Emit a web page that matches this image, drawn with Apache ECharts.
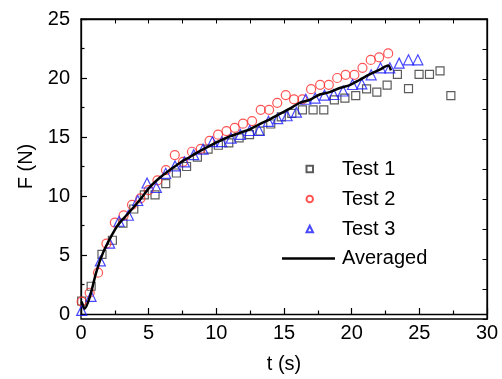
<!DOCTYPE html>
<html>
<head>
<meta charset="utf-8">
<script src="https://cdn.jsdelivr.net/npm/echarts@6/dist/echarts.min.js"></script>
<style>
html,body{margin:0;padding:0;background:#fff;}
#c{width:502px;height:379px;}
</style>
</head>
<body>
<div id="c"></div>
<script>
// ---- data ----
const test1T = [0.05,0.75,1.55,2.32,3.1,3.9,4.68,5.47,6.26,7.05,7.8,8.6,9.39,10.15,10.92,11.68,12.45,13.23,14.02,14.8,15.58,16.36,17.15,17.94,18.72,19.5,20.3,21.1,21.86,22.62,23.38,24.2,24.98,25.75,26.53,27.33];
const test1F = [1.1,2.35,5.05,6.25,7.7,8.9,10.1,10.1,11.05,11.95,12.5,13.3,13.97,14.3,14.5,14.92,15.2,15.5,16.1,16.7,17.0,17.3,17.3,17.3,18.15,18.3,18.5,19.08,18.8,19.4,20.3,19.1,20.3,20.3,20.6,18.5];

const test2T = [0.05,0.64,1.26,1.88,2.5,3.15,3.77,4.39,5.0,5.65,6.28,6.93,7.54,8.2,8.85,9.5,10.13,10.75,11.36,11.97,12.64,13.28,13.9,14.5,15.13,15.74,16.36,17.0,17.67,18.31,18.93,19.55,20.2,20.8,21.41,22.03,22.7];
const test2F = [1.05,1.8,3.5,5.97,7.75,8.35,9.25,9.8,10.5,11.33,12.2,13.47,12.9,13.75,14.0,14.67,15.2,15.5,15.78,16.13,16.35,17.3,17.3,17.9,18.55,18.19,18.19,19.05,19.42,19.42,20.0,20.27,20.27,20.86,21.53,21.75,22.08];

const test3T = [0.05,0.74,1.43,2.12,2.81,3.5,4.19,4.88,5.57,6.26,6.95,7.64,8.33,9.02,9.71,10.4,11.09,11.78,12.47,13.16,13.85,14.54,15.23,15.92,16.61,17.3,17.99,18.68,19.37,20.06,20.75,21.44,22.13,22.82,23.51,24.2,24.89];
const test3F = [0.3,1.5,4.5,6.0,7.86,8.37,9.62,11.1,10.72,11.92,12.55,12.9,13.5,13.97,14.6,14.6,14.9,15.22,15.55,15.55,16.33,16.55,16.8,17.1,18.2,18.3,18.55,18.6,18.9,19.45,19.5,20.27,20.86,20.86,21.26,21.54,21.54];

const avgT = [0.05,0.27,0.64,1.13,1.63,2.24,2.73,3.47,4.34,5.08,5.82,6.56,7.3,8.03,8.77,9.51,10.25,10.99,11.73,12.47,13.2,13.95,14.69,15.42,16.16,16.9,17.64,18.38,19.12,19.86,20.6,21.33,22.07,22.7,22.9];
const avgF = [1.05,0.45,1.4,3.55,5.2,6.6,7.55,8.5,9.66,10.75,11.55,12.2,12.8,13.3,13.8,14.25,14.67,15.05,15.35,15.65,16.1,16.5,16.95,17.4,17.9,18.15,18.6,18.8,19.15,19.4,19.85,20.3,20.7,21.05,20.65];

const xTicks = {min:0, max:30, interval:5};
const yTicks = {min:0, max:25, interval:5};

const pair = (a,b) => a.map((v,i)=>[v,b[i]]);

const FONT = '"Liberation Sans", Arial, sans-serif';
const tickStyle = () => ({
  axisTick:{show:true, inside:true, length:6, lineStyle:{color:'#000', width:1.2}},
  minorTick:{show:true, splitNumber:2, length:3.5, lineStyle:{color:'#000', width:1.2}},
  splitLine:{show:false}
});
// mirrored frame axes live in their own grid (same rectangle)
const mirror = (pos, t) => ({
  gridIndex:1, type:'value', position:pos, min:t.min, max:t.max, interval:t.interval / 2,
  axisLine:{show:true, onZero:false, lineStyle:{color:'#000', width:1.3}},
  axisTick:{show:true, inside:true, length:4.5},
  axisLabel:{show:false},
  splitLine:{show:false}
});
const gridRect = {left:81, right:15, top:19, bottom:60};

const chart = echarts.init(document.getElementById('c'), null, {renderer:'canvas'});
chart.setOption({
  animation:false,
  grid:[
    Object.assign({}, gridRect),
    Object.assign({show:true, borderColor:'#000', borderWidth:1.3, backgroundColor:'rgba(0,0,0,0)'}, gridRect)
  ],
  xAxis:[
    Object.assign({gridIndex:0, type:'value', position:'bottom', min:xTicks.min, max:xTicks.max, interval:xTicks.interval,
      axisLine:{show:true, lineStyle:{color:'#000', width:1.3}},
      name:'t (s)', nameLocation:'middle', nameGap:40,
      nameTextStyle:{fontFamily:FONT, fontSize:20, color:'#000'},
      axisLabel:{fontFamily:FONT, fontSize:20, color:'#000', margin:9}}, tickStyle()),
    mirror('top', xTicks)
  ],
  yAxis:[
    Object.assign({gridIndex:0, type:'value', position:'left', min:yTicks.min, max:yTicks.max, interval:yTicks.interval,
      axisLine:{show:true, lineStyle:{color:'#000', width:1.3}},
      name:'F (N)', nameLocation:'middle', nameGap:43, nameRotate:90,
      nameTextStyle:{fontFamily:FONT, fontSize:20, color:'#000'},
      axisLabel:{fontFamily:FONT, fontSize:20, color:'#000', margin:11}}, tickStyle()),
    mirror('right', yTicks)
  ],
  legend:[
    {
      data:['Test 1','Test 2','Test 3'],
      orient:'vertical', left:305.5, top:159, padding:0,
      itemWidth:6.5, itemHeight:6.5, itemGap:10,
      textStyle:{fontFamily:FONT, fontSize:20, color:'#000', lineHeight:20, padding:[0,0,0,24]}
    },
    {
      data:[{name:'Averaged', icon:'rect'}],
      orient:'vertical', left:282, top:248.5, padding:0,
      itemWidth:53, itemHeight:2.5,
      itemStyle:{color:'#000', borderWidth:0},
      textStyle:{fontFamily:FONT, fontSize:20, color:'#000', lineHeight:20, padding:[0,0,0,2]}
    }
  ],
  series:[
    {name:'Test 1', type:'scatter', xAxisIndex:0, yAxisIndex:0, data:pair(test1T,test1F), symbol:'rect', symbolSize:8,
      itemStyle:{color:'rgba(0,0,0,0)', borderColor:'#333', borderWidth:1.2}, z:3},
    {name:'Test 2', type:'scatter', xAxisIndex:0, yAxisIndex:0, data:pair(test2T,test2F), symbol:'circle', symbolSize:9,
      itemStyle:{color:'rgba(0,0,0,0)', borderColor:'#ff2a2a', borderWidth:1.2}, z:3},
    {name:'Test 3', type:'scatter', xAxisIndex:0, yAxisIndex:0, data:pair(test3T,test3F), symbol:'triangle', symbolSize:10,
      itemStyle:{color:'rgba(0,0,0,0)', borderColor:'#1a1aff', borderWidth:1.2}, z:3},
    {name:'Averaged', type:'line', xAxisIndex:0, yAxisIndex:0, data:pair(avgT,avgF), symbol:'none', smooth:0.3,
      lineStyle:{color:'#000', width:2.5}, itemStyle:{color:'#000'}, z:4}
  ]
});
</script>
</body>
</html>
